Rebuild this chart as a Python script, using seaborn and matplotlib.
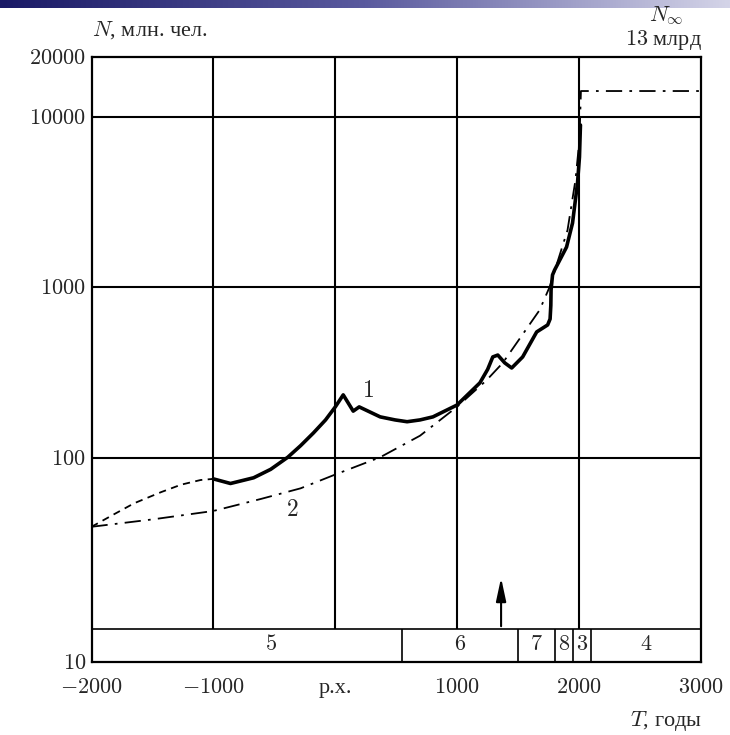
import numpy as np
import pandas as pd
import matplotlib
matplotlib.use("Agg")
import matplotlib.pyplot as plt
from matplotlib.colors import LinearSegmentedColormap
import seaborn as sns

# ---- данные ----
# кривая 1, пунктирная часть (до -1000)
years_1a = [-2000, -1815, -1650, -1430, -1265, -1105, -1000]
pop_1a = [46, 53, 60, 68, 74, 78, 79]

# кривая 1, сплошная часть
years_1 = [-1000, -860, -670, -530, -390, -285, -180, -80, 0, 65, 147, 196, 368,
           490, 589, 695, 801, 998, 1186, 1250, 1292, 1333, 1390, 1447, 1537, 1652,
           1742, 1762, 1768, 1770, 1782, 1799, 1897, 1946, 1987, 2003, 2011]
pop_1 = [79, 75, 80, 88, 101, 118, 140, 167, 199, 234, 188, 199, 174,
         167, 163, 167, 174, 204, 275, 330, 390, 400, 360, 336, 390, 546,
         600, 650, 780, 960, 1177, 1259, 1718, 2377, 4090, 5820, 8970]

# кривая 2 (штрихпунктир), модель
years_2 = [-2000, -1500, -1000, -610, -285, 0, 368, 695, 998, 1243, 1374,
           1676, 1758, 1905, 1970, 2003, 2015, 3000]
pop_2 = [46, 50, 55, 63, 71, 83, 101, 135, 199, 286, 360,
         733, 1000, 2160, 4250, 7330, 13500, 13500]

# периоды на нижней полосе
period_edges = [-2000, 550, 1500, 1800, 1950, 2100, 3000]
period_names = ["5", "6", "7", "8", "3", "4"]
period_text_x = [-530, 1025, 1650, 1875, 2025, 2550]

x_ticks = [-2000, -1000, 0, 1000, 2000, 3000]
x_labels = ["$-2000$", "$-1000$", "р.х.", "$1000$", "$2000$", "$3000$"]
y_ticks = [10, 100, 1000, 10000, 20000]
y_labels = ["$10$", "$100$", "$1000$", "$10000$", "$20000$"]

# ось N на рисунке нарисована от руки: декады неравной длины
log_knots = [1, 2, 3, 4, np.log10(20000)]
pos_knots = [0, 204, 375, 545, 605]


def fwd(v):
    v = np.clip(np.asarray(v, dtype=float), 1e-6, None)
    return np.interp(np.log10(v), log_knots, pos_knots)


def inv(p):
    return 10 ** np.interp(np.asarray(p, dtype=float), pos_knots, log_knots)


sns.set_style("white")
plt.rcParams["font.family"] = ["Liberation Serif", "DejaVu Serif"]
plt.rcParams["mathtext.fontset"] = "cm"

W, H = 730, 735
fig = plt.figure(figsize=(W / 100, H / 100), dpi=100)
ax = fig.add_axes([91.5 / W, 1 - 662 / H, (701 - 91.5) / W, (662 - 57) / H])
ax.set_yscale("function", functions=(fwd, inv))
ax.set_xlim(-2000, 3000)
ax.set_ylim(10, 20000)

bar_top = (662 - 629) / 605
xtr = ax.get_xaxis_transform()

# сетка
ax.vlines([-1000, 0, 1000, 2000], bar_top, 1, transform=xtr, color="black", lw=1.5)
ax.hlines([100, 1000, 10000], -2000, 3000, color="black", lw=1.5)

# полоса периодов
ax.plot([-2000, 3000], [bar_top, bar_top], transform=xtr, color="black", lw=1.2)
ax.vlines(period_edges[1:-1], 0, bar_top, transform=xtr, color="black", lw=1.2)
for xt, name in zip(period_text_x, period_names):
    ax.text(xt, bar_top / 2, f"${name}$", transform=xtr, ha="center", va="center",
            fontsize=16)

# стрелка
ax.annotate("", xy=(1360, (662 - 575) / 605), xytext=(1360, bar_top),
            xycoords=xtr, textcoords=xtr,
            arrowprops=dict(arrowstyle="-|>,head_length=1.4,head_width=0.3",
                            color="black", lw=1.5))

# кривые
d1a = pd.DataFrame({"T": years_1a, "N": pop_1a})
d1 = pd.DataFrame({"T": years_1, "N": pop_1})
d2 = pd.DataFrame({"T": years_2, "N": pop_2})
sns.lineplot(data=d1a, x="T", y="N", sort=False, ax=ax, color="black", lw=1.3,
             linestyle=(0, (4, 3)))
sns.lineplot(data=d2, x="T", y="N", sort=False, ax=ax, color="black", lw=1.3,
             linestyle=(0, (9, 4, 1.5, 4)))
sns.lineplot(data=d1, x="T", y="N", sort=False, ax=ax, color="black", lw=2.6)

ax.text(270, 245, "$1$", fontsize=17, ha="center", va="center")
ax.text(-350, 55, "$2$", fontsize=17, ha="center", va="center")

# оси
ax.set_xticks(x_ticks)
ax.set_xticklabels(x_labels, fontsize=16)
ax.set_yticks(y_ticks)
ax.set_yticklabels(y_labels, fontsize=16)
ax.yaxis.set_minor_locator(matplotlib.ticker.NullLocator())
ax.tick_params(axis="x", direction="out", length=8, width=1.3, pad=4, color="black")
ax.tick_params(axis="y", length=0, pad=4)
xt_objs = ax.xaxis.get_major_ticks()
xt_objs[0].tick1line.set_visible(False)
xt_objs[-1].tick1line.set_visible(False)
for s in ax.spines.values():
    s.set_visible(True)
    s.set_color("black")
    s.set_linewidth(1.6)
ax.set_xlabel("")
ax.set_ylabel("")

fig.text(92 / W, 1 - 30 / H, "$N$, млн. чел.", fontsize=16, ha="left", va="center")
fig.text(666 / W, 1 - 16 / H, "$N_{\\infty}$", fontsize=16, ha="center", va="center")
fig.text(702 / W, 1 - 40 / H, "$13$ млрд", fontsize=16, ha="right", va="center")
fig.text(702 / W, 1 - 721 / H, "$T$, годы", fontsize=16, ha="right", va="center")

# полоса заголовка слайда
hax = fig.add_axes([0, 1 - 8 / H, 1, 8 / H])
cmap = LinearSegmentedColormap.from_list("hdr", ["#1a1a66", "#5a5a9e", "#d4d4e8"])
hax.imshow(np.linspace(0, 1, 256)[None, :], aspect="auto", cmap=cmap)
hax.axis("off")

fig.savefig("out.png", dpi=100)
